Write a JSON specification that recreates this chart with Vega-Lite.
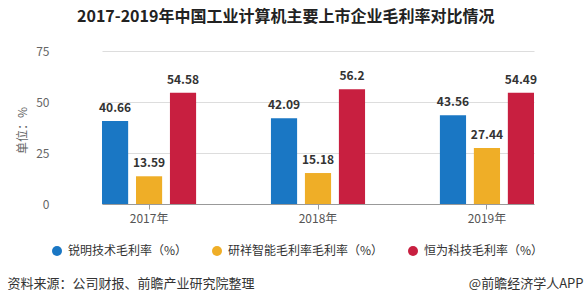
{
  "$schema": "https://vega.github.io/schema/vega-lite/v6.json",
  "autosize": {"type": "none"},
  "width": 516,
  "height": 153,
  "padding": {"left": 55, "top": 51, "right": 13, "bottom": 99},
  "background": "white",
  "config": {
    "font": "Noto Sans CJK SC",
    "view": {"stroke": null},
    "axis": {"labelFont": "Noto Sans CJK SC", "titleFont": "Noto Sans CJK SC"},
    "legend": {"labelFont": "Noto Sans CJK SC"}
  },
  "title": {
    "text": "2017-2019年中国工业计算机主要上市企业毛利率对比情况",
    "anchor": "start",
    "frame": "group",
    "dx": 22,
    "offset": 20,
    "fontSize": 16,
    "fontWeight": "bold",
    "color": "#222222",
    "font": "Noto Sans CJK SC"
  },
  "data": {
    "values": [
      {"year": "2017年", "company": "锐明技术毛利率（%）", "value": 40.66},
      {"year": "2017年", "company": "研祥智能毛利率毛利率（%）", "value": 13.59},
      {"year": "2017年", "company": "恒为科技毛利率（%）", "value": 54.58},
      {"year": "2018年", "company": "锐明技术毛利率（%）", "value": 42.09},
      {"year": "2018年", "company": "研祥智能毛利率毛利率（%）", "value": 15.18},
      {"year": "2018年", "company": "恒为科技毛利率（%）", "value": 56.2},
      {"year": "2019年", "company": "锐明技术毛利率（%）", "value": 43.56},
      {"year": "2019年", "company": "研祥智能毛利率毛利率（%）", "value": 27.44},
      {"year": "2019年", "company": "恒为科技毛利率（%）", "value": 54.49}
    ]
  },
  "encoding": {
    "x": {
      "field": "year",
      "type": "nominal",
      "sort": null,
      "scale": {"range": [47, 479], "paddingInner": 0.443, "paddingOuter": 0},
      "axis": {
        "title": "资料来源：公司财报、前瞻产业研究院整理",
        "titleAnchor": "start",
        "titleAlign": "left",
        "titleBaseline": "middle",
        "titleX": -48,
        "titleY": 79,
        "titleFontSize": 13,
        "titleFontWeight": "normal",
        "titleColor": "#333333",
        "labelAngle": 0,
        "labelFontSize": 12,
        "labelColor": "#555555",
        "labelPadding": 4,
        "tickSize": 5,
        "tickColor": "#999999",
        "domainColor": "#999999",
        "grid": false
      }
    },
    "xOffset": {
      "field": "company",
      "type": "nominal",
      "sort": null,
      "scale": {"paddingInner": 0.23, "paddingOuter": 0}
    },
    "y": {
      "field": "value",
      "type": "quantitative",
      "scale": {"domain": [0, 75]},
      "axis": {
        "values": [0, 25, 50, 75],
        "title": "单位：%",
        "titleX": -33,
        "titleY": 79,
        "titleAlign": "center",
        "titleBaseline": "middle",
        "titleAngle": -90,
        "titleFontSize": 12,
        "titleFontWeight": "normal",
        "titleColor": "#666666",
        "labelFontSize": 12,
        "labelColor": "#666666",
        "labelPadding": 6,
        "ticks": false,
        "domain": false,
        "gridColor": "#dddddd"
      }
    }
  },
  "layer": [
    {
      "mark": {"type": "bar"},
      "encoding": {
        "color": {
          "field": "company",
          "type": "nominal",
          "sort": null,
          "scale": {
            "domain": ["锐明技术毛利率（%）", "研祥智能毛利率毛利率（%）", "恒为科技毛利率（%）"],
            "range": ["#1a77c4", "#efae27", "#c81f40"]
          },
          "legend": {
            "title": null,
            "orient": "none",
            "direction": "horizontal",
            "legendX": -4,
            "legendY": 194,
            "symbolType": "circle",
            "symbolSize": 100,
            "symbolStrokeWidth": 0,
            "labelFontSize": 12,
            "labelColor": "#333333",
            "labelOffset": 5,
            "labelLimit": 300,
            "columnPadding": 23
          }
        }
      }
    },
    {
      "mark": {"type": "text", "baseline": "bottom", "dy": -6, "fontSize": 12, "fontWeight": "bold", "color": "#333333"},
      "encoding": {
        "text": {"field": "value", "type": "quantitative"},
        "y": {
          "field": "value",
          "type": "quantitative",
          "axis": {
            "orient": "right",
            "title": "@前瞻经济学人APP",
            "titleAngle": 0,
            "titleAlign": "right",
            "titleBaseline": "middle",
            "titleX": 12,
            "titleY": 232,
            "titleFontSize": 13,
            "titleFontWeight": "normal",
            "titleColor": "#333333",
            "labels": false,
            "ticks": false,
            "domain": false,
            "grid": false
          }
        }
      }
    }
  ],
  "resolve": {"axis": {"y": "independent"}}
}
